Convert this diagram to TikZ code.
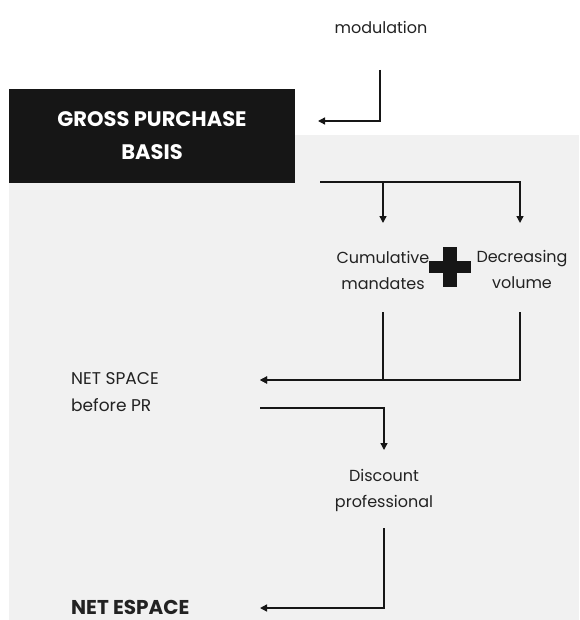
\documentclass[tikz,border=0pt]{standalone}
\usepackage{fontspec}
\setmainfont{Poppins}
\usetikzlibrary{arrows.meta}
\definecolor{bggray}{HTML}{F1F1F1}
\definecolor{boxblack}{HTML}{161616}
\definecolor{txt}{HTML}{222222}
\tikzset{
  conn/.style={line width=1.4pt, draw=boxblack},
  arr/.style={conn, -{Triangle[length=7pt,width=7pt]}},
  lbl/.style={font=\fontsize{16}{26}\selectfont, text=txt, align=center, inner sep=0pt},
  lbll/.style={lbl, align=left, anchor=west},
  grossbox/.style={fill=boxblack, text=white, font=\fontsize{21}{33}\selectfont\bfseries, align=center, minimum width=286pt, minimum height=94pt, inner sep=0pt},
}
\begin{document}
\begin{tikzpicture}[x=1pt,y=-1pt]
\useasboundingbox (0,0) rectangle (579,620);
\fill[bggray] (9,135) rectangle (579,620);
% nodes
\node[lbl] (mod) at (381,27) {modulation};
\node[grossbox] (gross) at (152,136) {GROSS PURCHASE\\BASIS};
\node[lbl] (cum) at (383,270) {Cumulative\\mandates};
\node[lbl] (dec) at (522,269) {Decreasing\\volume};
\node[inner sep=0pt, minimum width=42pt, minimum height=40pt] (plus) at (450,267) {};
\fill[boxblack] (443,247) rectangle (457,287);
\fill[boxblack] (429,261) rectangle (471,273);
\node[lbll, font=\fontsize{17}{27}\selectfont] (netsp) at (71,392) {NET SPACE\\before PR};
\node[lbl] (disc) at (384,490) {Discount\\professional};
\node[lbll, font=\fontsize{20}{22}\selectfont\bfseries] (netesp) at (71,607) {NET ESPACE};
% connector ends
\coordinate (modout) at (380,70);
\coordinate (grossin) at (318,121);
\coordinate (grossout) at (320,182);
\coordinate (cumin) at (383,223);
\coordinate (decin) at (520,223);
\coordinate (cumout) at (383,312);
\coordinate (decout) at (520,312);
\coordinate (netspin) at (260,380);
\coordinate (netspout) at (260,408);
\coordinate (discin) at (384,450);
\coordinate (discout) at (384,528);
\coordinate (netespin) at (260,608);
% connectors
\draw[arr] (modout) |- (grossin);
\draw[arr] (grossout) -| (cumin);
\draw[arr] (grossout) -| (decin);
\draw[arr] (cumout) |- (netspin);
\draw[arr] (decout) |- (netspin);
\draw[arr] (netspout) -| (discin);
\draw[arr] (discout) |- (netespin);
\end{tikzpicture}
\end{document}
